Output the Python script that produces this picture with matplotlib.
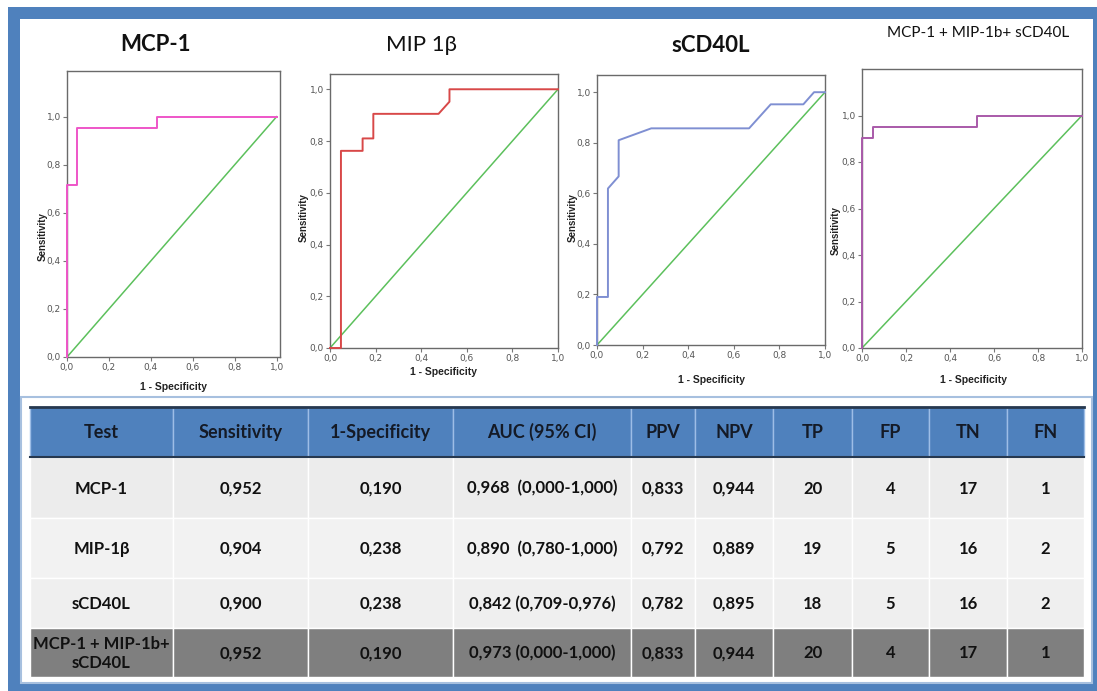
import matplotlib
matplotlib.use("Agg")
import matplotlib.pyplot as plt
from matplotlib.patches import Rectangle
from matplotlib.ticker import FuncFormatter

W, H = 1097, 691

# -------------------------------------------------------
# ROC curves: (1 - specificity, sensitivity)
# -------------------------------------------------------
mcp_fpr = [0.0, 0.0, 0.048, 0.048, 0.429, 0.429, 1.0]
mcp_tpr = [0.0, 0.714, 0.714, 0.952, 0.952, 1.0, 1.0]

mip_fpr = [0.0, 0.048, 0.048, 0.143, 0.143, 0.190, 0.190, 0.476, 0.524, 0.524, 1.0]
mip_tpr = [0.0, 0.0, 0.762, 0.762, 0.810, 0.810, 0.905, 0.905, 0.952, 1.0, 1.0]

cd40_fpr = [0.0, 0.0, 0.048, 0.048, 0.095, 0.095, 0.238, 0.667, 0.762, 0.905, 0.952, 1.0]
cd40_tpr = [0.0, 0.190, 0.190, 0.619, 0.667, 0.810, 0.857, 0.857, 0.952, 0.952, 1.0, 1.0]

comb_fpr = [0.0, 0.0, 0.048, 0.048, 0.524, 0.524, 1.0]
comb_tpr = [0.0, 0.905, 0.905, 0.952, 0.952, 1.0, 1.0]

ref_line = [0.0, 1.0]

# -------------------------------------------------------
# Table values
# -------------------------------------------------------
headers = ["Test", "Sensitivity", "1-Specificity", "AUC (95% CI)", "PPV", "NPV",
           "TP", "FP", "TN", "FN"]
tests = ["MCP-1", "MIP-1\u03b2", "sCD40L", "MCP-1 + MIP-1b+\nsCD40L"]
sensitivity = ["0,952", "0,904", "0,900", "0,952"]
one_minus_spec = ["0,190", "0,238", "0,238", "0,190"]
auc_ci = ["0,968  (0,000-1,000)", "0,890  (0,780-1,000)",
          "0,842 (0,709-0,976)", "0,973 (0,000-1,000)"]
ppv = ["0,833", "0,792", "0,782", "0,833"]
npv = ["0,944", "0,889", "0,895", "0,944"]
tp = [20, 19, 18, 20]
fp = [4, 5, 5, 4]
tn = [17, 16, 16, 17]
fn = [1, 2, 2, 1]

# -------------------------------------------------------
# Layout (pixels) and styles
# -------------------------------------------------------
panels = [
    dict(title="MCP-1", weight="bold", tsize=16, tx=155, ty=44,
         box=(67, 71, 280, 357), xmax=1.016, ymax=1.19,
         ylab=(43, 237), xlab=(173, 387),
         x=mcp_fpr, y=mcp_tpr, color="#ee55c8"),
    dict(title="MIP 1\u03b2", weight="normal", tsize=16, tx=421, ty=45,
         box=(330, 74, 558, 348), xmax=1.0, ymax=1.059,
         ylab=(304, 218), xlab=(444, 372),
         x=mip_fpr, y=mip_tpr, color="#d84848"),
    dict(title="sCD40L", weight="bold", tsize=16, tx=711, ty=45,
         box=(597, 75, 825, 345), xmax=1.0, ymax=1.068,
         ylab=(573, 218), xlab=(711, 380),
         x=cd40_fpr, y=cd40_tpr, color="#7f8fd2"),
    dict(title="MCP-1 + MIP-1b+ sCD40L", weight="normal", tsize=11, tx=978, ty=33,
         box=(862, 69, 1082, 348), xmax=1.0, ymax=1.2,
         ylab=(836, 231), xlab=(974, 380),
         x=comb_fpr, y=comb_tpr, color="#a95aa9"),
]

col_edges = [30, 173, 308, 453, 631, 695, 773, 852, 929, 1007, 1084]
row_edges = [407, 457, 518, 578, 628, 677]
row_fills = ["#ececec", "#f2f2f2", "#efefef", "#7f7f7f"]

title_font = ["Lato", "DejaVu Sans"]
label_font = ["Liberation Sans", "DejaVu Sans"]

fig = plt.figure(figsize=(W / 100, H / 100), dpi=100)
fig.patch.set_facecolor("white")

# background canvas in pixel coordinates
bg = fig.add_axes([0, 0, 1, 1])
bg.set_xlim(0, W)
bg.set_ylim(H, 0)
bg.axis("off")

# blue outer frame
bg.add_patch(Rectangle((8, 7), W, H, facecolor="#4f81bd", edgecolor="none"))
bg.add_patch(Rectangle((20, 19), 1073, 664, facecolor="white", edgecolor="none"))

# table box
bg.add_patch(Rectangle((21, 397), 1071, 286, facecolor="white",
                       edgecolor="#a7c0df", lw=1.5))

# header row
for j in range(len(headers)):
    x0, x1 = col_edges[j], col_edges[j + 1]
    y0, y1 = row_edges[0], row_edges[1]
    bg.add_patch(Rectangle((x0, y0), x1 - x0, y1 - y0, facecolor="#4f81bd",
                           edgecolor="#9dbde6", lw=1))
    bg.text((x0 + x1) / 2, (y0 + y1) / 2, headers[j], ha="center", va="center",
            fontsize=13, fontweight="bold", family=title_font, color="#141a26")
bg.plot([col_edges[0], col_edges[-1]], [row_edges[0], row_edges[0]],
        color="#26384f", lw=2)
bg.plot([col_edges[0], col_edges[-1]], [row_edges[1], row_edges[1]],
        color="#26384f", lw=1.5)

# body rows
columns = [tests, sensitivity, one_minus_spec, auc_ci, ppv, npv, tp, fp, tn, fn]
for i in range(len(tests)):
    y0, y1 = row_edges[i + 1], row_edges[i + 2]
    for j, col in enumerate(columns):
        x0, x1 = col_edges[j], col_edges[j + 1]
        bg.add_patch(Rectangle((x0, y0), x1 - x0, y1 - y0, facecolor=row_fills[i],
                               edgecolor="white", lw=1))
        bg.text((x0 + x1) / 2, (y0 + y1) / 2 + 1, str(col[i]), ha="center",
                va="center", fontsize=12, fontweight="bold", family=title_font,
                color="#111111", linespacing=1.3)

# ROC panels
fmt = FuncFormatter(lambda v, p: f"{v:.1f}".replace(".", ","))
for p in panels:
    l, t, r, b = p["box"]
    ax = fig.add_axes([l / W, 1 - b / H, (r - l) / W, (b - t) / H])
    ax.plot(ref_line, ref_line, color="#5cc05c", lw=1.1)
    # curve drawn over the spines so the run along x = 0 stays visible
    ax.plot(p["x"], p["y"], color=p["color"], lw=1.4, clip_on=False, zorder=4)
    ax.set_xlim(0, p["xmax"])
    ax.set_ylim(0, p["ymax"])
    ax.set_xticks([0, 0.2, 0.4, 0.6, 0.8, 1.0])
    ax.set_yticks([0, 0.2, 0.4, 0.6, 0.8, 1.0])
    ax.xaxis.set_major_formatter(fmt)
    ax.yaxis.set_major_formatter(fmt)
    ax.tick_params(length=3, width=0.8, color="#777777", labelsize=6.5,
                   labelcolor="#555555", pad=1.5)
    for s in ax.spines.values():
        s.set_color("#6a6a6a")
        s.set_linewidth(1.0)

    bg.text(p["tx"], p["ty"], p["title"], ha="center", va="center",
            fontsize=p["tsize"], fontweight=p["weight"], family=title_font,
            color="#111111")
    bg.text(p["ylab"][0], p["ylab"][1], "Sensitivity", ha="center", va="center",
            rotation=90, fontsize=7, fontweight="bold", family=label_font,
            color="#222222")
    bg.text(p["xlab"][0], p["xlab"][1], "1 - Specificity", ha="center",
            va="center", fontsize=7.5, fontweight="bold", family=label_font,
            color="#222222")

fig.savefig("out.png", dpi=100)
